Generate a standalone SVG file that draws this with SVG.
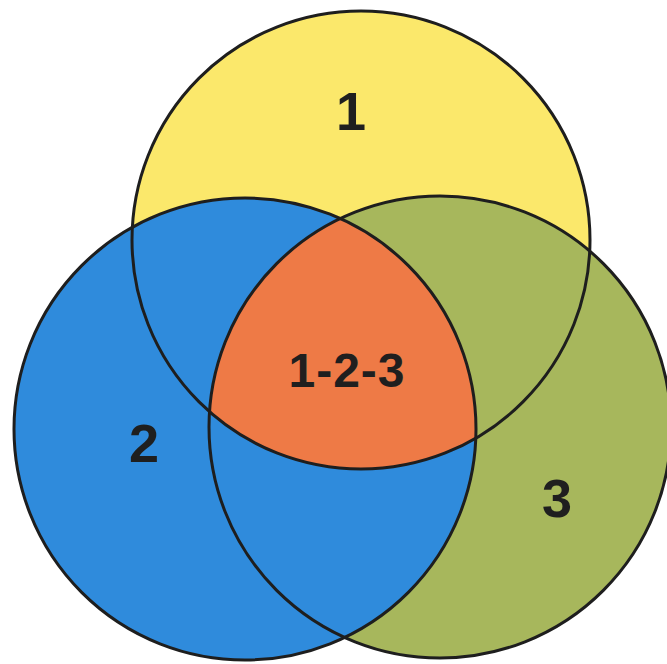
<svg xmlns="http://www.w3.org/2000/svg" width="667" height="664" viewBox="0 0 667 664">
  <style>
    .outline { fill: none; stroke: #1e1e1e; stroke-width: 3; }
    .lbl { font-family: "Liberation Sans", Arial, sans-serif; font-weight: bold; fill: #1f1f1f; text-anchor: middle; }
  </style>
  <defs>
    <clipPath id="clip1"><circle cx="361" cy="240" r="229"/></clipPath>
    <clipPath id="clip2"><circle cx="245" cy="429" r="231"/></clipPath>
  </defs>
  <rect width="667" height="664" fill="#ffffff"/>
  <g id="set-1">
    <circle cx="361" cy="240" r="229" fill="#fbe86b"/>
  </g>
  <g id="set-3">
    <circle cx="440" cy="427" r="231" fill="#a7b75c"/>
  </g>
  <g id="set-2">
    <circle cx="245" cy="429" r="231" fill="#2f8bdc"/>
  </g>
  <g id="set-1-2-3">
    <g clip-path="url(#clip1)">
      <circle cx="440" cy="427" r="231" fill="#ee7a46" clip-path="url(#clip2)"/>
    </g>
  </g>
  <g id="outlines">
    <circle class="outline" cx="361" cy="240" r="229"/>
    <circle class="outline" cx="245" cy="429" r="231"/>
    <circle class="outline" cx="440" cy="427" r="231"/>
  </g>
  <g id="labels">
    <text class="lbl" x="351" y="130" font-size="54">1</text>
    <text class="lbl" x="144" y="462" font-size="54">2</text>
    <text class="lbl" x="557" y="517" font-size="54">3</text>
    <text class="lbl" x="347" y="387" font-size="48" letter-spacing="1">1-2-3</text>
  </g>
</svg>
